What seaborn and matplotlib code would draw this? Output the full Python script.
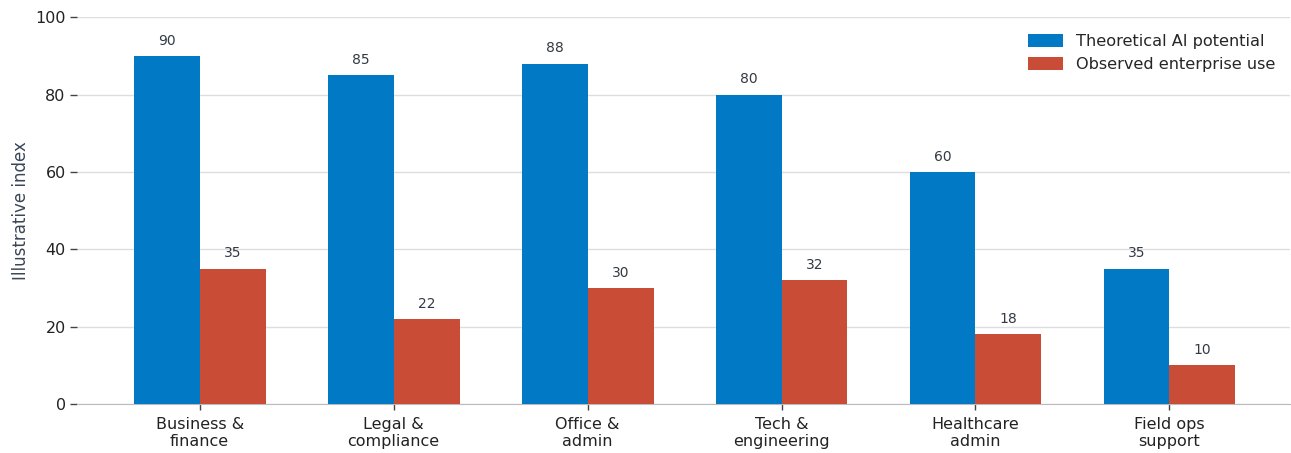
import matplotlib
matplotlib.use("Agg")
import matplotlib.pyplot as plt
import seaborn as sns
import pandas as pd

categories = ["Business &\nfinance", "Legal &\ncompliance", "Office &\nadmin",
              "Tech &\nengineering", "Healthcare\nadmin", "Field ops\nsupport"]
theoretical = [90, 85, 88, 80, 60, 35]
observed = [35, 22, 30, 32, 18, 10]
series_names = ["Theoretical AI potential", "Observed enterprise use"]
colors = ["#0279c5", "#c84c36"]

df = pd.DataFrame({
    "category": categories * 2,
    "value": theoretical + observed,
    "series": [series_names[0]] * len(categories) + [series_names[1]] * len(categories),
})

sns.set_style("white")
plt.rcParams['font.family'] = ['DejaVu Sans']

fig = plt.figure(figsize=(12.91, 4.53), dpi=100)
ax = fig.add_axes([0.060, 0.108, 0.939, 0.854])

sns.barplot(data=df, x="category", y="value", hue="series", order=categories,
            hue_order=series_names, palette=colors, width=0.68, saturation=1,
            ax=ax, zorder=3, errorbar=None, linewidth=0, edgecolor="none")

for cont in ax.containers:
    ax.bar_label(cont, fmt="%d", padding=6, fontsize=10, color="#333a44")

ax.set_ylim(0, 100)
ax.set_xlim(-0.63, 5.62)
ax.set_yticks([0, 20, 40, 60, 80, 100])
ax.yaxis.grid(True, color="#dddddd", linewidth=1, zorder=0)
ax.set_axisbelow(True)
for s in ["top", "right", "left"]:
    ax.spines[s].set_visible(False)
ax.spines["bottom"].set_color("#bbbbbb")
ax.tick_params(axis="y", left=True, length=5, width=1, color="#444444", labelsize=11.5, labelcolor="#222222")
ax.tick_params(axis="x", bottom=True, length=4, width=1, pad=5, color="#444444", labelsize=11.5, labelcolor="#222222")
ax.set_xlabel("")
ax.set_ylabel("Illustrative index", fontsize=12, color="#3a4656")

leg = ax.legend(frameon=False, loc="upper right", fontsize=11.6, bbox_to_anchor=(1.0, 0.995),
                handlelength=2.2, handleheight=0.9)

fig.savefig("out.png", dpi=100)
